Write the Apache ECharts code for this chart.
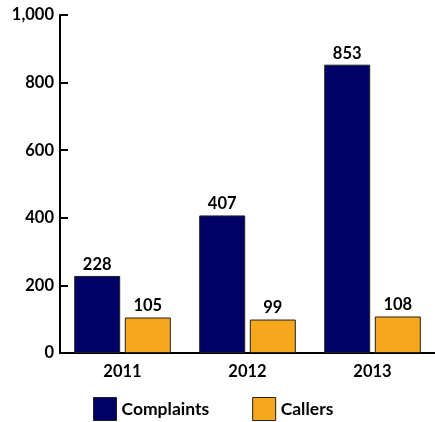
<!DOCTYPE html>
<html><head><meta charset="utf-8">
<script src="https://cdn.jsdelivr.net/npm/echarts@6/dist/echarts.min.js"></script>
<style>html,body{margin:0;padding:0;background:#fff}#c{width:435px;height:422px}</style>
</head><body><div id="c"></div>
<script>
const categories = ['2011', '2012', '2013'];
const complaints = [228, 407, 853];
const callers = [105, 99, 108];
const yTicks = [0, 200, 400, 600, 800, 1000];

const font = 'Lato, "Open Sans", sans-serif';
const chart = echarts.init(document.getElementById('c'));
chart.setOption({
  animation: false,
  textStyle: { fontFamily: font },
  grid: { left: 60, right: -5, top: 15, bottom: 69, containLabel: false },
  legend: {
    bottom: 1, left: 93, itemGap: 43, padding: 0,
    itemWidth: 23, itemHeight: 23, icon: 'rect',
    itemStyle: { borderColor: '#222', borderWidth: 1 },
    textStyle: { fontSize: 17.5, fontWeight: 'bold', color: '#000', fontFamily: font },
    data: ['Complaints', 'Callers']
  },
  xAxis: {
    type: 'category', data: categories,
    axisLine: { lineStyle: { color: '#000', width: 2 } },
    axisTick: { inside: true, length: 6, lineStyle: { color: '#000', width: 2 } },
    axisLabel: { fontSize: 16.5, fontWeight: 'bold', color: '#000', margin: 10, fontFamily: font }
  },
  yAxis: {
    type: 'value', min: 0, max: 1000, interval: 200,
    axisLine: { show: true, lineStyle: { color: '#000', width: 2 } },
    axisTick: { show: true, inside: true, length: 8, lineStyle: { color: '#000', width: 2 } },
    splitLine: { show: false },
    axisLabel: { fontSize: 16.5, fontWeight: 'bold', color: '#000', margin: 6, fontFamily: font,
      formatter: v => yTicks.includes(v) ? v.toLocaleString('en-US') : '' }
  },
  series: [
    { name: 'Complaints', type: 'bar', data: complaints, barWidth: 46, barGap: '10%',
      itemStyle: { color: '#000066', borderColor: '#222', borderWidth: 1 },
      label: { show: true, position: 'top', fontSize: 16.5, fontWeight: 'bold', color: '#000', distance: 3, fontFamily: font } },
    { name: 'Callers', type: 'bar', data: callers, barWidth: 46,
      itemStyle: { color: '#F5A81C', borderColor: '#222', borderWidth: 1 },
      label: { show: true, position: 'top', fontSize: 16.5, fontWeight: 'bold', color: '#000', distance: 3, fontFamily: font } }
  ]
});
</script></body></html>
